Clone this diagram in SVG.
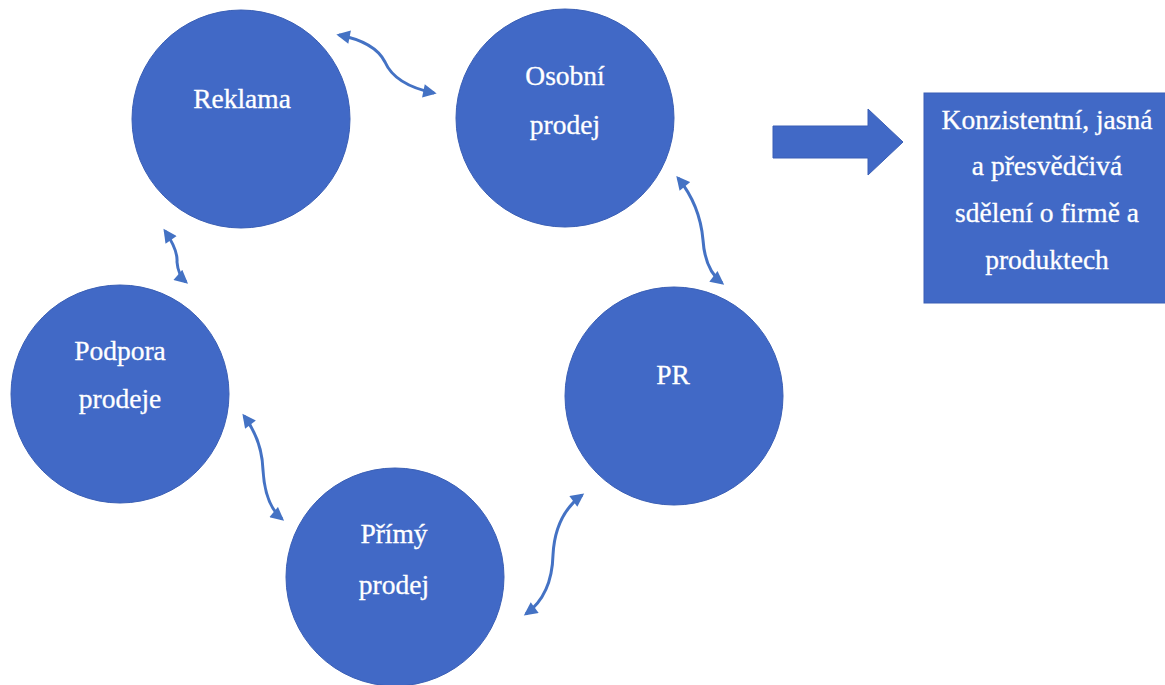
<svg xmlns="http://www.w3.org/2000/svg" width="1165" height="685" viewBox="0 0 1165 685">
<defs>
<style>
.node{fill:#4169C6;stroke:#3A5FB5;stroke-width:1}
.lbl{font-family:"Liberation Serif","Times New Roman",serif;font-size:27.5px;fill:#ffffff;stroke:#ffffff;stroke-width:0.3;text-anchor:middle}
.con{fill:none;stroke:#4472C4;stroke-width:3;marker-start:url(#ah);marker-end:url(#ah)}
</style>
<marker id="ah" viewBox="0 0 10 10" refX="8" refY="5" markerWidth="5" markerHeight="4.5" orient="auto-start-reverse" markerUnits="strokeWidth">
<path d="M0,0 L10,5 L0,10 Z" fill="#4472C4"/>
</marker>
</defs>
<rect width="1165" height="685" fill="#ffffff"/>
<g id="connectors">
<path class="con" d="M339,35 Q 375,42 385,62 Q 395,85 434,93"/>
<path class="con" d="M678,178 Q 700,205 703,240 Q 705,270 722,283"/>
<path class="con" d="M165,231 Q 178,250 177,262 Q 178,275 186,282"/>
<path class="con" d="M244,416 Q 262,440 263,470 Q 265,505 282,519"/>
<path class="con" d="M582,495 Q 555,515 553,555 Q 552,595 526,614"/>
</g>
<g id="reklama">
<circle class="node" cx="241" cy="119" r="109"/>
<text class="lbl" x="242" y="108">Reklama</text>
</g>
<g id="osobni-prodej">
<circle class="node" cx="565" cy="118" r="109"/>
<text class="lbl" x="565" y="85">Osobní</text>
<text class="lbl" x="565" y="134">prodej</text>
</g>
<g id="pr">
<circle class="node" cx="674" cy="396" r="109"/>
<text class="lbl" x="673" y="384">PR</text>
</g>
<g id="primy-prodej">
<circle class="node" cx="395" cy="577" r="109"/>
<text class="lbl" x="394" y="543">Přímý</text>
<text class="lbl" x="394" y="594">prodej</text>
</g>
<g id="podpora-prodeje">
<circle class="node" cx="120" cy="394" r="109"/>
<text class="lbl" x="120" y="360">Podpora</text>
<text class="lbl" x="120" y="408">prodeje</text>
</g>
<g id="block-arrow">
<path d="M773,126 L868,126 L868,109 L903,142 L868,175 L868,158 L773,158 Z" fill="#4169C6" stroke="#3A5FB5" stroke-width="1"/>
</g>
<g id="vysledek">
<rect x="924" y="93" width="245" height="210" fill="#4169C6" stroke="#3A5FB5" stroke-width="1"/>
<text class="lbl" x="1047" y="129">Konzistentní, jasná</text>
<text class="lbl" x="1047" y="175">a přesvědčivá</text>
<text class="lbl" x="1047" y="222">sdělení o firmě a</text>
<text class="lbl" x="1047" y="269">produktech</text>
</g>
</svg>
